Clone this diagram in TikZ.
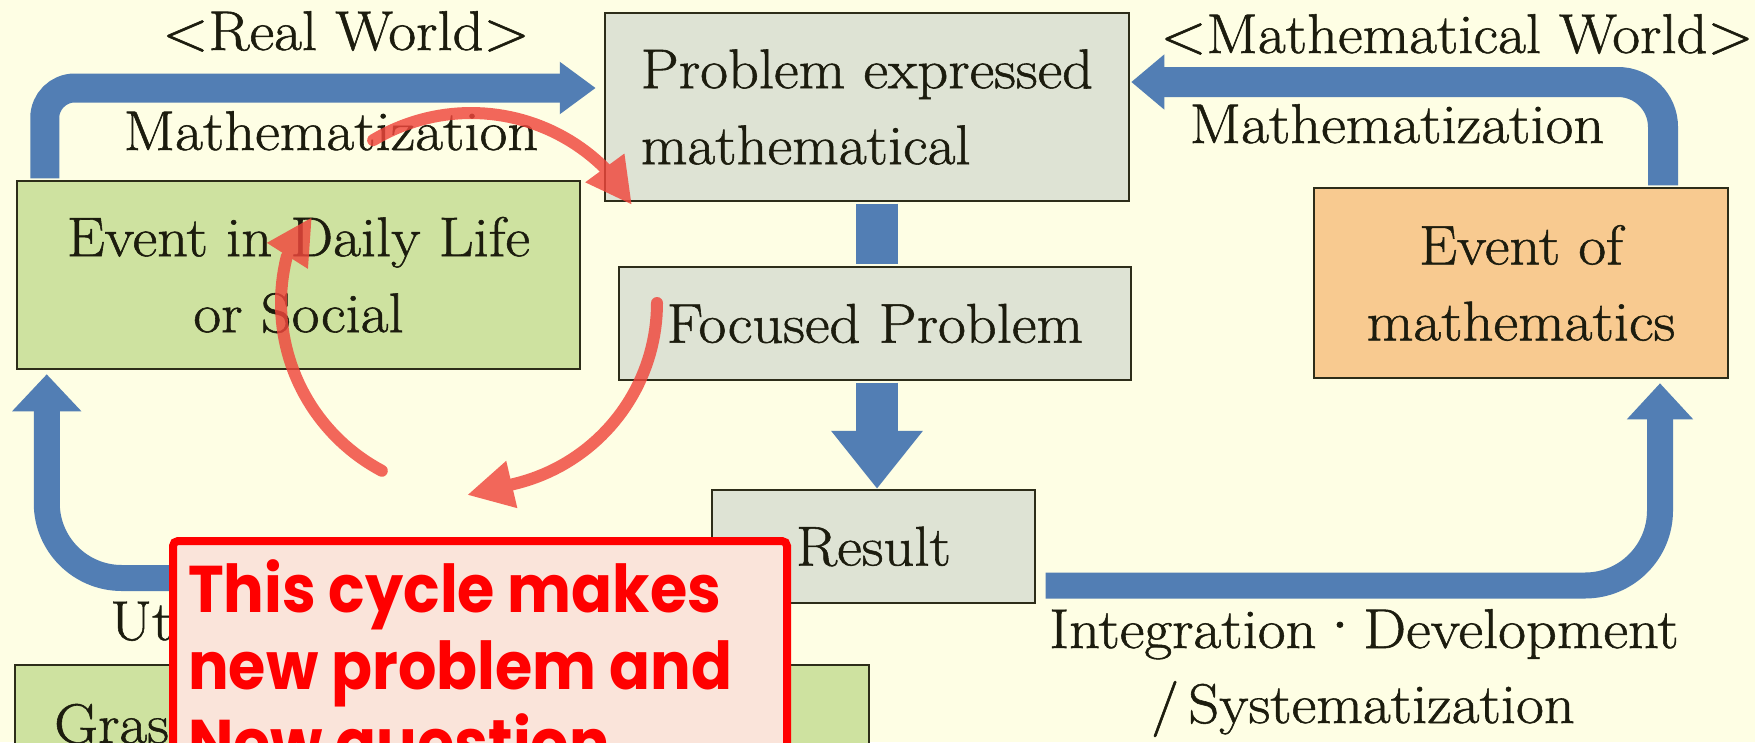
\documentclass[tikz,border=0pt]{standalone}
\usepackage{fontspec}
\setmainfont{Latin Modern Roman}[FakeStretch=1.08, FakeBold=1.0]
\newfontfamily\redfont{Poppins}[FakeStretch=0.915]
\usetikzlibrary{arrows.meta}
\definecolor{bg}{RGB}{254,254,228}
\definecolor{bluearr}{RGB}{82,126,180}
\definecolor{greenbox}{RGB}{206,226,160}
\definecolor{greybox}{RGB}{222,227,212}
\definecolor{orangebox}{RGB}{248,202,144}
\definecolor{pinkbox}{RGB}{250,228,218}
\definecolor{arcred}{RGB}{240,70,60}
\definecolor{ink}{RGB}{28,28,14}
\definecolor{boxline}{RGB}{45,45,25}
\tikzset{
  box/.style={draw=boxline, line width=2.5pt, inner sep=0pt, text=ink,
    font=\fontsize{56}{76}\selectfont, align=center},
  lbl/.style={text=ink, font=\fontsize{56}{76}\selectfont, inner sep=0pt},
  bluebar/.style={draw=bluearr, line width=28pt, shorten <=1.3pt},
  redarc/.style={draw=arcred, line width=12pt, line cap=round},
  redbox/.style={draw=red, line width=8pt, fill=pinkbox, rounded corners=5pt, inner sep=0pt},
  redtxt/.style={text=red, font=\redfont\bfseries\fontsize{66}{77}\selectfont, inner sep=0pt}
}
\begin{document}
\begin{tikzpicture}[x=1pt,y=-1pt]
\useasboundingbox (0,0) rectangle (1755,742);
\clip (0,0) rectangle (1755,742);
\fill[bg] (0,0) rectangle (1755,742);

% boxes
\node[box, fill=greenbox, minimum width=563pt, minimum height=188pt] (ev1) at (298.5,275) {Event in Daily Life\\or Social};
\node[box, fill=greybox, minimum width=524pt, minimum height=188pt, align=left] (prob) at (867,107) {Problem expressed\\mathematical};
\node[box, fill=greybox, minimum width=512pt, minimum height=113pt] (foc) at (875,323.5) {Focused Problem};
\node[box, fill=greybox, minimum width=323pt, minimum height=113pt] (res) at (873.5,546.5) {Result};
\node[box, fill=orangebox, minimum width=414pt, minimum height=190pt] (evm) at (1521,283) {Event of\\mathematics};
\node[box, fill=greenbox, minimum width=854pt, minimum height=200pt] (ev2) at (442,765) {};

% blue arrows
\draw[bluebar, line width=29pt, rounded corners=30pt, -{Triangle[length=36pt,width=50pt]}]
  ([xshift=29pt]ev1.north west) |- ([shift={(-8pt,19pt)}]prob.west);
\draw[bluebar, line width=42pt, shorten >=1.3pt] ([xshift=10pt]prob.south) -- ([xshift=10pt]prob.south |- foc.north);
\draw[bluebar, line width=42pt, -{Triangle[length=58pt,width=88pt]}]
  ([xshift=2pt]foc.south) -- ([xshift=2pt]foc.south |- res.north);
\draw[bluebar, line width=26pt, rounded corners=75pt, -{Triangle[length=36pt,width=64pt]}]
  ([shift={(8pt,-39pt)}]res.east) -| ([shift={(139pt,-4pt)}]evm.south);
\draw[bluebar, line width=30pt, rounded corners=45pt, -{Triangle[length=33pt,width=53pt]}]
  ([xshift=142pt]evm.north) |- ([shift={(1pt,25pt)}]prob.east);
\draw[bluebar, line width=26pt, rounded corners=75pt, -{Triangle[length=37pt,width=67pt]}]
  ([yshift=-31.5pt]res.west) -| ([shift={(31pt,-4pt)}]ev1.south west);

% labels
\node[lbl, anchor=base] (rw) at (346,50) {<Real World>};
\node[lbl, anchor=base] (m1) at (331,150) {Mathematization};
\node[lbl, anchor=base] (mw) at (1457,53) {<Mathematical World>};
\node[lbl, anchor=base] (m2) at (1397,143) {Mathematization};
\node[lbl, anchor=base] (idv) at (1364,648) {Integration\kern-3pt{\fontsize{68}{68}\selectfont ·}\kern-3pt Development};
\node[lbl, anchor=base] (sys) at (1363,723) {/\,Systematization};
\node[lbl, anchor=base west] (ut) at (110,640) {Ut};
\node[lbl, anchor=base west] (gr) at (54,743) {Gras};

% red cycle arcs
\begin{scope}[transparency group, opacity=0.82]
\draw[redarc, -{Triangle[length=46pt,width=45pt]}]
  plot[domain=-121:-45, samples=40] ({471+190*cos(\x)},{303+190*sin(\x)}) -- (632,205);
\draw[redarc, -{Triangle[length=46pt,width=45pt]}]
  plot[domain=0:77, samples=40] ({471+186*cos(\x)},{303+186*sin(\x)}) -- (467,495);
\draw[redarc, -{Triangle[length=46pt,width=45pt]}]
  plot[domain=118:194, samples=40] ({471+190*cos(\x)},{303+190*sin(\x)}) -- (312,217);
\end{scope}

% red note box
\node[redbox, anchor=north west, minimum width=614pt, minimum height=300pt] (rb) at (169,537) {};
\node[redtxt, anchor=north west, align=left] (rt) at (188,559) {This cycle makes\\new problem and\\New question};
\end{tikzpicture}
\end{document}
